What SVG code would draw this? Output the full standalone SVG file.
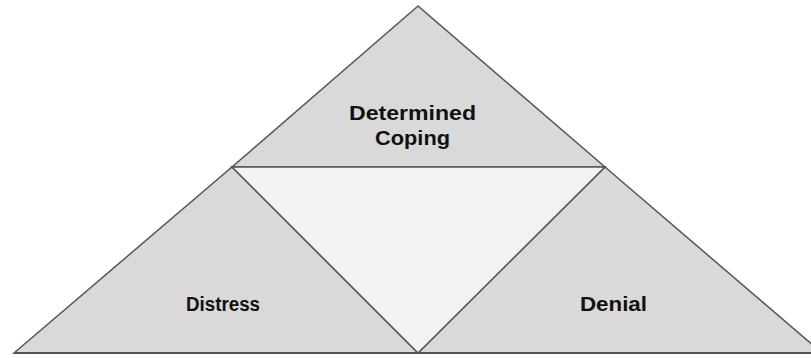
<svg xmlns="http://www.w3.org/2000/svg" width="811" height="358" viewBox="0 0 811 358">
<style>
.outer{fill:#d9d9d9;stroke:#555;stroke-width:1.5;stroke-linejoin:miter}
.inner{fill:#f2f2f2;stroke:#555;stroke-width:1.5}
.lbl{font-family:"Liberation Sans",Arial,sans-serif;font-weight:bold;font-size:20px;fill:#111;text-anchor:middle}
</style>
<rect x="0" y="0" width="811" height="358" fill="#ffffff"/>
<g id="determined-coping">
<polygon class="outer" points="418,6 232,167 605,167"/>
<text class="lbl" x="412.5" y="120" textLength="127" lengthAdjust="spacingAndGlyphs">Determined</text>
<text class="lbl" x="412.5" y="145" textLength="75" lengthAdjust="spacingAndGlyphs">Coping</text>
</g>
<g id="distress">
<polygon class="outer" points="14,353 232,167 418,353"/>
<text class="lbl" x="223" y="311" textLength="74" lengthAdjust="spacingAndGlyphs">Distress</text>
</g>
<g id="denial">
<polygon class="outer" points="605,167 822,353 418,353"/>
<text class="lbl" x="613.5" y="311" textLength="67" lengthAdjust="spacingAndGlyphs">Denial</text>
</g>
<g id="center">
<polygon class="inner" points="232,167 605,167 418,353"/>
</g>
<g id="connectors">
<line x1="14" y1="353" x2="822" y2="353" stroke="#555" stroke-width="2"/>
</g>
</svg>
